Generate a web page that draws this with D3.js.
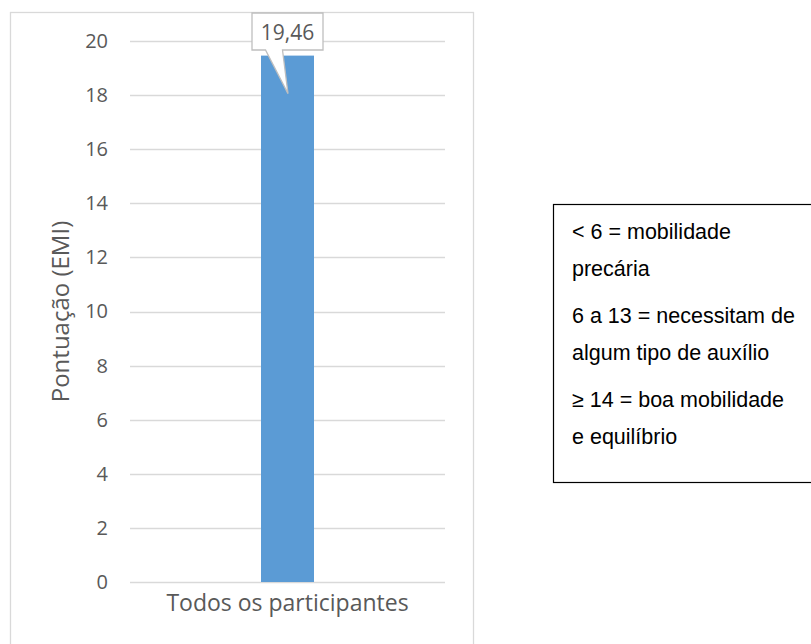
<!DOCTYPE html>
<meta charset="utf-8">
<style>
  body { margin: 0; background: #fff; }
  text { font-family: "Open Sans", sans-serif; }
</style>
<body>
<script src="https://d3js.org/d3.v7.min.js"></script>
<script>

// data
var categories = ["Todos os participantes"];
var values = [19.46];
var valueLabels = ["19,46"];
var yTicks = [0, 2, 4, 6, 8, 10, 12, 14, 16, 18, 20];
var yTitle = "Pontuação (EMI)";
var legendLines = [
  ["< 6 = mobilidade", "precária"],
  ["6 a 13 = necessitam de", "algum tipo de auxílio"],
  ["≥ 14 = boa mobilidade", "e equilíbrio"]
];

var width = 811, height = 644;

var svg = d3.select("body")
  .append("svg")
    .attr("width", width)
    .attr("height", height);

// chart frame
svg.append("rect")
  .attr("x", 10.5).attr("y", 12.5)
  .attr("width", 463).attr("height", 650)
  .attr("fill", "#fff")
  .attr("stroke", "#d9d9d9")
  .attr("stroke-width", 1.3);

var x = d3.scaleBand()
  .domain(categories)
  .range([130, 445])
  .padding(0.712);

var y = d3.scaleLinear()
  .domain([0, 20])
  .range([582, 41]);

// gridlines
svg.append("g")
  .selectAll("line")
  .data(yTicks)
  .enter()
  .append("line")
    .attr("x1", 130).attr("x2", 445)
    .attr("y1", function(d){ return Math.round(y(d)) + 0.5 })
    .attr("y2", function(d){ return Math.round(y(d)) + 0.5 })
    .attr("stroke", "#d9d9d9")
    .attr("stroke-width", 1.3);

// y axis labels
var yAxis = svg.append("g")
  .attr("transform", "translate(108,0)")
  .call(d3.axisLeft(y).tickValues(yTicks).tickSize(0).tickPadding(0));
yAxis.select(".domain").remove();
yAxis.selectAll("text")
  .style("font-family", "Open Sans")
  .style("font-size", "20px")
  .attr("fill", "#595959");

// bars
svg.selectAll("rect.bar")
  .data(values)
  .enter()
  .append("rect")
    .attr("class", "bar")
    .attr("x", function(d, i){ return x(categories[i]) })
    .attr("width", x.bandwidth())
    .attr("y", function(d){ return y(d) })
    .attr("height", function(d){ return y(0) - y(d) })
    .attr("fill", "#5b9bd5");

// x axis label
var xAxis = svg.append("g")
  .attr("transform", "translate(0," + y(0) + ")")
  .call(d3.axisBottom(x).tickSize(0).tickPadding(13));
xAxis.select(".domain").remove();
xAxis.selectAll("text")
  .style("font-family", "Open Sans")
  .style("font-size", "23px")
  .attr("fill", "#595959");

// y axis title
svg.append("text")
  .attr("transform", "translate(69," + (y(0) + y(20)) / 2 + ") rotate(-90)")
  .attr("text-anchor", "middle")
  .style("font-size", "24px")
  .attr("fill", "#595959")
  .text(yTitle);

// data label callout
values.forEach(function(v, i) {
  var cx = x(categories[i]) + x.bandwidth() / 2;
  var tipY = y(v) + 38;
  var bx0 = cx - 35.5, bx1 = cx + 35.5, by0 = 13, by1 = 50;
  var path = [
    [bx0, by0], [bx1, by0], [bx1, by1], [cx - 5, by1],
    [cx + 0.5, tipY], [cx - 22, by1], [bx0, by1]
  ];
  svg.append("path")
    .attr("d", d3.line()(path) + "Z")
    .attr("fill", "#fff")
    .attr("stroke", "#bfbfbf")
    .attr("stroke-width", 1.3);
  svg.append("text")
    .attr("x", cx)
    .attr("y", 40)
    .attr("text-anchor", "middle")
    .style("font-size", "21px")
    .attr("fill", "#595959")
    .text(valueLabels[i]);
});

// legend box
var legend = svg.append("g");
legend.append("rect")
  .attr("x", 553.5).attr("y", 204.5)
  .attr("width", 270).attr("height", 278)
  .attr("fill", "#fff")
  .attr("stroke", "#000")
  .attr("stroke-width", 1.2);

var baselines = [[239, 276], [323, 360], [407, 444]];
legendLines.forEach(function(par, i) {
  par.forEach(function(line, j) {
    legend.append("text")
      .attr("x", 572)
      .attr("y", baselines[i][j])
      .style("font-family", "Liberation Sans, Arial, sans-serif")
      .style("font-size", "21.5px")
      .attr("fill", "#000")
      .text(line);
  });
});

</script>
</body>
